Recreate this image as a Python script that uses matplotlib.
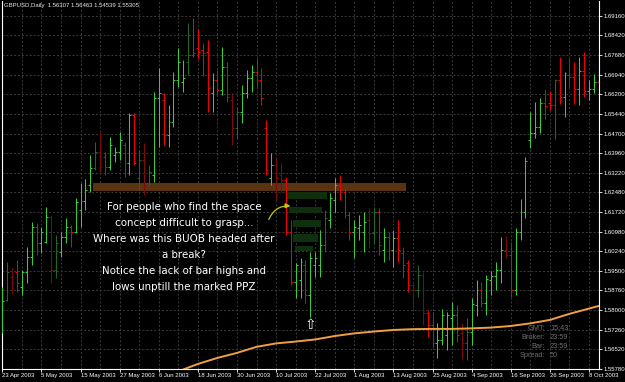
import numpy as np
import matplotlib
matplotlib.use("Agg")
import matplotlib.pyplot as plt
from matplotlib.patches import Rectangle, FancyArrowPatch

# ===============================================
# GBPUSD Daily - OHLC bars with PPZ / BUOB notes
# ===============================================

# daily bars, 23 Apr 2003 onwards (bar index = trading day)
opens = [1.5745, 1.5840, 1.5927, 1.5946, 1.5889, 1.5946, 1.6003, 1.6116, 1.6056, 1.6059,
         1.6154, 1.5953, 1.6022, 1.6078, 1.6116, 1.6097, 1.6181, 1.6215, 1.6275, 1.6340,
         1.6401, 1.6382, 1.6344, 1.6389, 1.6401, 1.6427, 1.6359, 1.6541, 1.6302, 1.6370,
         1.6283, 1.6313, 1.6605, 1.6598, 1.6465, 1.6514, 1.6673, 1.6666, 1.6742, 1.6768,
         1.6795, 1.6787, 1.6780, 1.6624, 1.6673, 1.6636, 1.6723, 1.6598, 1.6491, 1.6552,
         1.6624, 1.6681, 1.6704, 1.6673, 1.6491, 1.6302, 1.6351, 1.6313, 1.6294, 1.6097,
         1.5908, 1.5915, 1.5972, 1.5859, 1.5972, 1.5972, 1.6048, 1.6143, 1.6219, 1.6275,
         1.6249, 1.6162, 1.6097, 1.6112, 1.6097, 1.6143, 1.6094, 1.6173, 1.6029, 1.6078,
         1.6029, 1.6075, 1.6018, 1.5980, 1.5896, 1.5878, 1.5934, 1.5790, 1.5745, 1.5677,
         1.5688, 1.5707, 1.5771, 1.5783, 1.5715, 1.5677, 1.5718, 1.5821, 1.5878, 1.5828,
         1.5915, 1.5931, 1.5953, 1.6029, 1.6010, 1.5878, 1.6097, 1.6173, 1.6446, 1.6473,
         1.6495, 1.6586, 1.6586, 1.6579, 1.6673, 1.6609, 1.6692, 1.6685, 1.6639, 1.6708,
         1.6632, 1.6639, 1.6666]
highs = [1.5889, 1.5984, 1.5961, 1.5991, 1.5953, 1.6040, 1.6135, 1.6131, 1.6116, 1.6192,
         1.6162, 1.6086, 1.6097, 1.6150, 1.6124, 1.6226, 1.6283, 1.6298, 1.6389, 1.6438,
         1.6476, 1.6401, 1.6457, 1.6419, 1.6476, 1.6438, 1.6548, 1.6548, 1.6408, 1.6435,
         1.6351, 1.6628, 1.6719, 1.6624, 1.6579, 1.6704, 1.6795, 1.6749, 1.6889, 1.6908,
         1.6867, 1.6814, 1.6825, 1.6700, 1.6711, 1.6798, 1.6742, 1.6624, 1.6571, 1.6654,
         1.6711, 1.6730, 1.6757, 1.6719, 1.6522, 1.6397, 1.6382, 1.6359, 1.6306, 1.6143,
         1.5980, 1.5999, 1.5991, 1.6022, 1.6022, 1.6105, 1.6181, 1.6245, 1.6302, 1.6313,
         1.6264, 1.6173, 1.6143, 1.6162, 1.6173, 1.6188, 1.6192, 1.6188, 1.6112, 1.6097,
         1.6105, 1.6143, 1.6040, 1.5991, 1.5908, 1.5972, 1.5946, 1.5802, 1.5794, 1.5752,
         1.5806, 1.5794, 1.5832, 1.5821, 1.5752, 1.5771, 1.5847, 1.5915, 1.5908, 1.5934,
         1.5950, 1.5984, 1.6078, 1.6082, 1.6059, 1.6112, 1.6222, 1.6382, 1.6552, 1.6590,
         1.6605, 1.6636, 1.6632, 1.6677, 1.6761, 1.6704, 1.6757, 1.6742, 1.6761, 1.6780,
         1.6673, 1.6696, 1.6723]
lows = [1.5715, 1.5836, 1.5866, 1.5870, 1.5859, 1.5904, 1.5972, 1.6010, 1.6018, 1.6056,
        1.5904, 1.5923, 1.6003, 1.6056, 1.6040, 1.6094, 1.6116, 1.6181, 1.6249, 1.6332,
        1.6325, 1.6313, 1.6332, 1.6363, 1.6370, 1.6306, 1.6313, 1.6351, 1.6256, 1.6238,
        1.6275, 1.6287, 1.6419, 1.6427, 1.6419, 1.6495, 1.6647, 1.6628, 1.6692, 1.6761,
        1.6753, 1.6689, 1.6552, 1.6552, 1.6617, 1.6617, 1.6590, 1.6427, 1.6454, 1.6510,
        1.6605, 1.6628, 1.6643, 1.6579, 1.6313, 1.6275, 1.6219, 1.6249, 1.6086, 1.5896,
        1.5847, 1.5847, 1.5828, 1.5775, 1.5927, 1.5927, 1.6022, 1.6112, 1.6173, 1.6219,
        1.6150, 1.6067, 1.5999, 1.6067, 1.6022, 1.6037, 1.6056, 1.6010, 1.5984, 1.5991,
        1.5965, 1.5984, 1.5923, 1.5870, 1.5809, 1.5851, 1.5745, 1.5699, 1.5661, 1.5620,
        1.5669, 1.5650, 1.5669, 1.5680, 1.5616, 1.5612, 1.5669, 1.5779, 1.5813, 1.5783,
        1.5859, 1.5878, 1.5904, 1.5999, 1.5851, 1.5859, 1.6067, 1.6150, 1.6416, 1.6454,
        1.6473, 1.6526, 1.6560, 1.6450, 1.6582, 1.6533, 1.6647, 1.6582, 1.6579, 1.6609,
        1.6598, 1.6624, 1.6598]
closes = [1.5836, 1.5946, 1.5904, 1.5904, 1.5946, 1.6003, 1.6116, 1.6056, 1.6097, 1.6154,
          1.5953, 1.6056, 1.6078, 1.6116, 1.6097, 1.6211, 1.6215, 1.6256, 1.6340, 1.6401,
          1.6344, 1.6344, 1.6427, 1.6401, 1.6446, 1.6359, 1.6541, 1.6359, 1.6370, 1.6275,
          1.6325, 1.6605, 1.6624, 1.6465, 1.6514, 1.6673, 1.6742, 1.6681, 1.6768, 1.6776,
          1.6780, 1.6776, 1.6643, 1.6673, 1.6636, 1.6723, 1.6609, 1.6491, 1.6552, 1.6624,
          1.6681, 1.6704, 1.6673, 1.6605, 1.6332, 1.6351, 1.6302, 1.6294, 1.6097, 1.5908,
          1.5972, 1.5984, 1.5859, 1.5999, 1.5999, 1.6048, 1.6150, 1.6226, 1.6275, 1.6256,
          1.6162, 1.6097, 1.6116, 1.6124, 1.6135, 1.6094, 1.6173, 1.6048, 1.6078, 1.6029,
          1.6075, 1.6029, 1.5972, 1.5896, 1.5878, 1.5934, 1.5790, 1.5745, 1.5677, 1.5688,
          1.5783, 1.5783, 1.5783, 1.5707, 1.5677, 1.5718, 1.5824, 1.5878, 1.5828, 1.5919,
          1.5931, 1.5953, 1.6029, 1.6010, 1.5878, 1.6097, 1.6173, 1.6366, 1.6473, 1.6495,
          1.6586, 1.6575, 1.6579, 1.6673, 1.6609, 1.6700, 1.6685, 1.6639, 1.6708, 1.6632,
          1.6639, 1.6666, 1.6617]

# bars drawn in the darker shade
dark_bars = [1, 2, 10, 11, 19, 20, 28, 29, 30, 38, 39, 47, 48, 56, 57, 66,
             75, 76, 84, 85, 86, 94, 95, 103, 113]

# moving average (orange line), sampled per bar index
ma_bars = [36, 37, 40, 44, 48, 52, 56, 60, 64, 68, 72, 76, 80, 84, 88, 92,
           96, 100, 104, 108, 112, 116, 120, 122]
ma_values = [1.5570, 1.5576, 1.5597, 1.5620, 1.5639, 1.5662, 1.5675, 1.5682,
             1.5690, 1.5703, 1.5713, 1.5720, 1.5726, 1.5729, 1.5730, 1.5730,
             1.5732, 1.5735, 1.5741, 1.5751, 1.5764, 1.5787, 1.5807, 1.5817]

# PPZ zone (brown band)
ppz_left, ppz_right = 18.6, 82.6
ppz_bottom, ppz_top = 1.6253, 1.6283

# BUOB ladder (dark green blocks)
ladder_left = [58.2, 58.6, 59.5, 59.5, 59.9]
ladder_right = [66.4, 65.4, 65.2, 64.6, 63.6]
ladder_bottom = [1.6222, 1.6169, 1.6116, 1.6059, 1.6025]
ladder_top = [1.6249, 1.6192, 1.6143, 1.6090, 1.6044]

price_levels = [1.69160, 1.68420, 1.67680, 1.66940, 1.66200, 1.65440, 1.64700,
                1.63960, 1.63220, 1.62480, 1.61720, 1.60980, 1.60240, 1.59500,
                1.58760, 1.58000, 1.57260, 1.56520, 1.55780]

date_bars = list(range(0, 121, 8))
date_labels = ["23 Apr 2003", "5 May 2003", "15 May 2003", "27 May 2003",
               "6 Jun 2003", "18 Jun 2003", "30 Jun 2003", "10 Jul 2003",
               "22 Jul 2003", "1 Aug 2003", "13 Aug 2003", "25 Aug 2003",
               "4 Sep 2003", "16 Sep 2003", "26 Sep 2003", "8 Oct 2003"]

header = "GBPUSD,Daily  1.56307 1.56463 1.54539 1.55305"
note = ("For people who find the space\n"
        "concept difficult to grasp...\n"
        "Where was this BUOB headed after\n"
        "a break?\n"
        "Notice the lack of bar highs and\n"
        "lows unptill the marked PPZ")
info_labels = ["GMT:", "Broker:", "Bar:", "Spread:"]
info_values = ["15:43", "23:59", "23:59", "50"]

# ===============================================
# Figure
# ===============================================

GREEN, RED = "#3acd3a", "#f00000"
DARK_GREEN, DARK_RED = "#1e6a1e", "#800a0a"
SMALL = "Liberation Sans"

fig = plt.figure(figsize=(6.25, 3.82), dpi=100, facecolor="black")
ax = fig.add_axes([2 / 625, 13 / 382, 597 / 625, 368 / 382])
ax.set_facecolor("black")
ax.set_xlim(-0.06, 122.05)
ax.set_ylim(1.5578, 1.69727)

for s in ["left", "right", "bottom"]:
    ax.spines[s].set_color("white")
    ax.spines[s].set_linewidth(0.8)
ax.spines["top"].set_visible(False)

# grid
for lvl in price_levels:
    ax.axhline(lvl, color="#3a3a3a", lw=0.7, ls=(0, (2, 2)), zorder=0)
for b in range(4, 123, 4):
    ax.axvline(b, color="#3a3a3a", lw=0.7, ls=(0, (2, 2)), zorder=0)

# zones
ax.add_patch(Rectangle((ppz_left, ppz_bottom), ppz_right - ppz_left,
                       ppz_top - ppz_bottom, facecolor="#5a3410",
                       edgecolor="none", zorder=1))
for l, r, b, t in zip(ladder_left, ladder_right, ladder_bottom, ladder_top):
    ax.add_patch(Rectangle((l, b), r - l, t - b, facecolor="#0f2f0f",
                           edgecolor="none", zorder=1))

# OHLC bars
o = np.array(opens)
h = np.array(highs)
lo = np.array(lows)
c = np.array(closes)
idx = np.arange(len(o))
cols = []
for i in idx:
    up = c[i] >= o[i]
    if i in dark_bars:
        cols.append(DARK_GREEN if up else DARK_RED)
    else:
        cols.append(GREEN if up else RED)

bar_kw = dict(colors=cols, lw=0.72, snap=True, zorder=3)
ax.vlines(idx, lo, h, **bar_kw)
ax.hlines(o, idx - 0.4, idx, **bar_kw)
ax.hlines(c, idx, idx + 0.4, **bar_kw)

# moving average
ax.plot(ma_bars, ma_values, color="#f0a040", lw=1.4, zorder=4)

# annotations
ax.text(37.2, 1.60386, note, ha="center", va="center", color="white",
        fontsize=7.4, family="DejaVu Sans", linespacing=1.75,
        multialignment="center", zorder=5)
ax.add_patch(FancyArrowPatch((54.3, 1.6135), (59.5, 1.6195),
                             connectionstyle="arc3,rad=-0.4",
                             arrowstyle="-|>", mutation_scale=7,
                             color="#c8c800", lw=0.9, zorder=5))
ax.text(63, 1.5745, "\u21e7", ha="center", va="center", color="white",
        fontsize=10, family="DejaVu Sans", zorder=5)

# axes ticks
ax.yaxis.tick_right()
ax.set_yticks(price_levels)
ax.set_yticklabels([f"{v:.5f}" for v in price_levels], family=SMALL)
ax.tick_params(axis="y", colors="white", labelsize=4.3, length=2, width=0.6, pad=1)
ax.set_xticks(date_bars)
ax.set_xticklabels(date_labels, ha="left", family=SMALL)
ax.tick_params(axis="x", colors="white", labelsize=4.3, length=2, width=0.6, pad=1)

# header and info box
fig.text(4 / 625, 1 - 6 / 382, header, color="#e8e8e8", fontsize=4.3,
         family=SMALL, va="center", ha="left")
for k, (lab, val) in enumerate(zip(info_labels, info_values)):
    yy = 1 - (328 + 9.3 * k) / 382
    fig.text(545 / 625, yy, lab, color="#6e6e6e", fontsize=5.3, family=SMALL,
             ha="right", va="center")
    fig.text(550 / 625, yy, val, color="#6e6e6e", fontsize=5.3, family=SMALL,
             ha="left", va="center")

fig.savefig("out.png", dpi=100, facecolor="black")
